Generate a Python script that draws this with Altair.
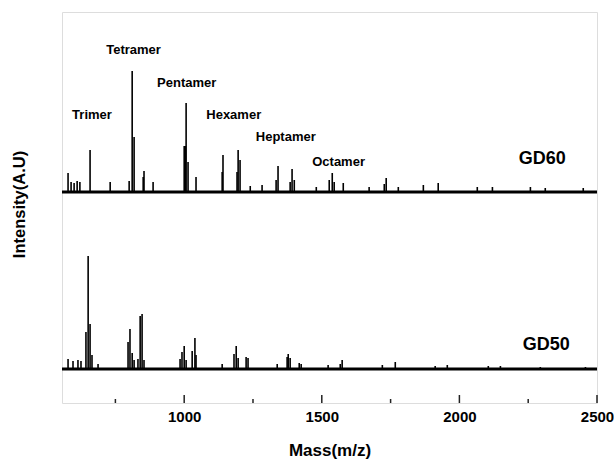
import altair as alt
import pandas as pd

# MALDI-style mass spectra of two samples, drawn as stick spectra on offset baselines.
MASS_MIN, MASS_MAX = 556, 2500

# Baseline levels (arbitrary intensity units) for the two stacked traces
series_names = ["GD60", "GD50"]
series_base = [211, 34]

# GD60 peaks: m/z and height above its baseline
gd60_mass = [578, 589, 600, 611, 621, 658, 731, 800, 811, 818, 851, 854, 887,
             1000, 1004, 1007, 1014, 1043, 1138, 1141, 1192, 1196, 1203, 1240,
             1283, 1334, 1341, 1385, 1392, 1400, 1480, 1527, 1538, 1545, 1578,
             1672, 1727, 1734, 1778, 1869, 1923, 2065, 2120, 2258, 2312, 2450]
gd60_height = [19, 10, 9, 11, 10, 42, 10, 11, 121, 55, 15, 21, 10,
               46, 46, 89, 30, 15, 20, 37, 20, 42, 32, 6,
               7, 12, 26, 10, 23, 12, 5, 12, 19, 10, 9,
               5, 8, 14, 5, 7, 9, 5, 5, 5, 4, 4]

# GD50 peaks: m/z and height above its baseline
gd50_mass = [578, 596, 614, 625, 643, 651, 658, 665, 687, 796, 803, 811, 818,
             832, 840, 847, 854, 985, 992, 1000, 1007, 1029, 1039, 1043, 1138,
             1181, 1189, 1196, 1225, 1232, 1338, 1374, 1378, 1385, 1418, 1425,
             1523, 1567, 1574, 1720, 1767, 1912, 1956, 2105, 2149, 2294, 2458]
gd50_height = [10, 8, 9, 8, 37, 113, 45, 14, 5, 27, 40, 16, 9,
               10, 53, 55, 9, 10, 17, 23, 9, 18, 31, 14, 5,
               15, 23, 11, 12, 11, 5, 12, 15, 11, 6, 5,
               4, 5, 9, 4, 7, 3, 4, 3, 3, 2, 2]

# Oligomer annotations and sample names
label_text = ["Trimer", "Tetramer", "Pentamer", "Hexamer", "Heptamer", "Octamer"]
label_mass = [665, 816, 1009, 1180, 1369, 1561]
label_level = [288, 353, 320, 288, 266, 241]

name_mass = [2301, 2316]
name_level = [244, 58]

major_ticks = [1000, 1500, 2000, 2500]
minor_ticks = [750, 1250, 1750, 2250]

FONT = "Liberation Sans"

peaks = pd.concat([
    pd.DataFrame({"series": "GD60", "mass": gd60_mass, "height": gd60_height,
                  "base": series_base[0]}),
    pd.DataFrame({"series": "GD50", "mass": gd50_mass, "height": gd50_height,
                  "base": series_base[1]}),
])
peaks["top"] = peaks["base"] + peaks["height"]

baselines = pd.DataFrame({"series": series_names, "start": MASS_MIN,
                          "end": MASS_MAX, "base": series_base})
labels = pd.DataFrame({"text": label_text, "mass": label_mass, "level": label_level})
names = pd.DataFrame({"text": series_names, "mass": name_mass, "level": name_level})
major_df = pd.DataFrame({"mass": major_ticks})
minor_df = pd.DataFrame({"mass": minor_ticks})

x_scale = alt.Scale(domain=[MASS_MIN, MASS_MAX], nice=False, zero=False)
y_scale = alt.Scale(domain=[0, 391], nice=False)

x_axis = alt.Axis(values=major_ticks, format="d", ticks=False, domain=False, grid=False,
                  labelFont=FONT, labelFontWeight="bold", labelFontSize=15,
                  labelColor="black", labelPadding=6, labelFlush=False,
                  labelOverlap=False, title="Mass(m/z)", titleFont=FONT,
                  titleFontWeight="bold", titleFontSize=17, titleColor="black",
                  titleY=47, titleBaseline="middle")
y_axis = alt.Axis(labels=False, ticks=False, domain=False, grid=False,
                  title="Intensity(A.U)", titleFont=FONT, titleFontWeight="bold",
                  titleFontSize=16.5, titleColor="black", titleX=-43, titleY=192,
                  titleAngle=270, titleBaseline="middle", titleAlign="center")

base_layer = alt.Chart(baselines).mark_rule(color="black", strokeWidth=3).encode(
    x=alt.X("start:Q", scale=x_scale, axis=x_axis),
    x2="end:Q",
    y=alt.Y("base:Q", scale=y_scale, axis=y_axis),
)

peak_layer = alt.Chart(peaks).mark_rule(color="black", strokeWidth=1.6).encode(
    x=alt.X("mass:Q", scale=x_scale),
    y=alt.Y("base:Q", scale=y_scale),
    y2="top:Q",
)

# Inward tick marks along the bottom edge of the frame
major_tick_layer = alt.Chart(major_df).mark_rule(color="#222222", strokeWidth=1.5).encode(
    x=alt.X("mass:Q", scale=x_scale),
    y=alt.value(391),
    y2=alt.value(383),
)
minor_tick_layer = alt.Chart(minor_df).mark_rule(color="#222222", strokeWidth=1.5).encode(
    x=alt.X("mass:Q", scale=x_scale),
    y=alt.value(391),
    y2=alt.value(387),
)

label_layer = alt.Chart(labels).mark_text(
    font=FONT, fontWeight="bold", fontSize=13, color="black", baseline="middle"
).encode(
    x=alt.X("mass:Q", scale=x_scale),
    y=alt.Y("level:Q", scale=y_scale),
    text="text:N",
)

name_layer = alt.Chart(names).mark_text(
    font=FONT, fontWeight="bold", fontSize=18, color="black", baseline="middle"
).encode(
    x=alt.X("mass:Q", scale=x_scale),
    y=alt.Y("level:Q", scale=y_scale),
    text="text:N",
)

chart = alt.layer(
    base_layer, peak_layer, major_tick_layer, minor_tick_layer, label_layer, name_layer
).properties(
    width=535,
    height=391,
    padding={"left": 62, "top": 12, "right": 17, "bottom": 56},
    autosize=alt.AutoSizeParams(type="none"),
).configure_view(stroke="#222222", strokeWidth=1.5).configure(background="white")

chart.save("out.html", embed_options={"renderer": "svg", "actions": False})
